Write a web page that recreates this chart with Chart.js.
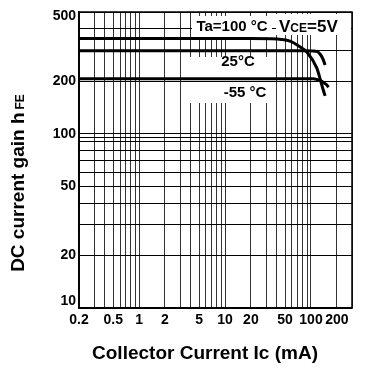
<!DOCTYPE html>
<html>
<head>
<meta charset="utf-8">
<script src="https://cdn.jsdelivr.net/npm/chart.js@4"></script>
<style>
  html, body { margin: 0; padding: 0; background: #fff; }
</style>
</head>
<body>
<canvas id="hfe-chart" width="365" height="371"></canvas>
<script>
// Dados (Ic em mA, hFE)
const ic100 = [0.2, 20, 34, 45, 57, 75, 90, 117, 130, 138, 146]
const hfe100 = [352, 352, 351, 348, 340, 315, 294, 238, 200, 180, 165]
const ic25 = [0.2, 20, 80, 105, 117, 128, 138, 146]
const hfe25 = [300, 300, 300, 299, 297, 286, 268, 248]
const icM55 = [0.2, 20, 90, 106, 117, 130, 140, 152, 160]
const hfeM55 = [207, 207, 207, 207, 205, 201, 197, 191, 185]

// Linhas de grade e rótulos dos eixos
const xGrid = [0.2, 0.3, 0.4, 0.5, 0.6, 0.7, 0.8, 0.9, 1, 2, 3, 4, 5, 6, 7, 8, 9, 10, 20, 30, 40, 50, 60, 70, 80, 90, 100, 200, 300]
const xLabels = [0.2, 0.5, 1, 2, 5, 10, 20, 50, 100, 200]
const yGrid = [10, 20, 30, 40, 50, 60, 70, 80, 90, 95, 100, 200, 300, 400, 500]
const yLabels = [20, 50, 100, 200]
// rótulos das pontas, um pouco para dentro como no original
const yEndLabels = [10, 500]

const FONT = "'Liberation Sans', Arial, sans-serif"

function toPoints(xs, ys) {
  return xs.map((x, i) => ({ x: x, y: ys[i] }))
}

function curve(data) {
  return {
    data: data,
    borderColor: "#000",
    borderWidth: 3,
    pointRadius: 0,
    fill: false,
    cubicInterpolationMode: "monotone",
  }
}

// Plugin para caixas brancas, moldura e textos
const labelsPlugin = {
  id: "labels",
  beforeDatasetsDraw(chart) {
    const ctx = chart.ctx
    const yScale = chart.scales.y
    ctx.save()
    ctx.fillStyle = "#fff"
    ctx.fillRect(192, 16, 80, 21)
    ctx.fillRect(276, 14, 75, 21)
    ctx.fillRect(186, 57, 86, 46)
    // a linha de 200 continua por baixo dos rótulos
    const y200 = Math.round(yScale.getPixelForValue(200)) + 0.5
    ctx.strokeStyle = "#000"
    ctx.lineWidth = 1
    ctx.beginPath()
    ctx.moveTo(186, y200)
    ctx.lineTo(272, y200)
    ctx.stroke()
    ctx.restore()
  },
  afterDraw(chart) {
    const ctx = chart.ctx
    const area = chart.chartArea
    const yScale = chart.scales.y
    ctx.save()

    // moldura
    ctx.strokeStyle = "#000"
    ctx.lineWidth = 1.5
    ctx.strokeRect(area.left, area.top, area.right - area.left, area.bottom - area.top)

    ctx.fillStyle = "#000"

    // 10 e 500 no eixo y
    ctx.font = "bold 14px " + FONT
    ctx.textAlign = "right"
    ctx.textBaseline = "middle"
    ctx.fillText(String(yEndLabels[0]), area.left - 3, yScale.getPixelForValue(yEndLabels[0]) - 7)
    ctx.fillText(String(yEndLabels[1]), area.left - 3, yScale.getPixelForValue(yEndLabels[1]) + 4)

    ctx.textAlign = "center"
    ctx.font = "bold 15px " + FONT
    ctx.fillText("Ta=100 °C", 232, 27)
    ctx.fillText("25°C", 238, 62)
    ctx.fillText("-55 °C", 245, 93)

    // VCE=5V com índice pequeno
    ctx.textAlign = "left"
    ctx.textBaseline = "alphabetic"
    let x = 279
    const base = 32
    ctx.font = "bold 17px " + FONT
    ctx.fillText("V", x, base)
    x += ctx.measureText("V").width
    ctx.font = "bold 12px " + FONT
    ctx.fillText("CE", x, base)
    x += ctx.measureText("CE").width
    ctx.font = "bold 17px " + FONT
    ctx.fillText("=5V", x, base)

    // título do eixo x
    ctx.textAlign = "center"
    ctx.textBaseline = "middle"
    ctx.font = "bold 19px " + FONT
    ctx.fillText("Collector Current Ic (mA)", 205, 354)

    // título do eixo y (rotacionado)
    ctx.translate(17, 183)
    ctx.rotate(-Math.PI / 2)
    const main = "DC current gain h"
    ctx.font = "bold 12px " + FONT
    const subW = ctx.measureText("FE").width
    ctx.font = "bold 19px " + FONT
    const mainW = ctx.measureText(main).width
    const start = -(mainW + 3 + subW) / 2
    ctx.textAlign = "left"
    ctx.textBaseline = "alphabetic"
    ctx.fillText(main, start, 7)
    ctx.font = "bold 12px " + FONT
    ctx.fillText("FE", start + mainW + 3, 7)

    ctx.restore()
  },
}

const chartCtx = document.getElementById("hfe-chart").getContext("2d")

new Chart(chartCtx, {
  type: "line",
  data: {
    datasets: [
      curve(toPoints(ic100, hfe100)),
      curve(toPoints(ic25, hfe25)),
      curve(toPoints(icM55, hfeM55)),
    ],
  },
  options: {
    responsive: false,
    animation: false,
    devicePixelRatio: 1,
    layout: { padding: { top: 12, right: 13, left: 0, bottom: 0 } },
    plugins: {
      legend: { display: false },
      tooltip: { enabled: false },
    },
    scales: {
      x: {
        type: "logarithmic",
        min: 0.2,
        max: 300,
        afterBuildTicks: (scale) => {
          scale.ticks = xGrid.map((v) => ({ value: v }))
        },
        afterFit: (scale) => {
          scale.height = 63
        },
        grid: { color: "#333", lineWidth: 1, drawTicks: false },
        border: { color: "#000", width: 1.5 },
        ticks: {
          autoSkip: false,
          maxRotation: 0,
          padding: 4,
          color: "#000",
          font: { family: FONT, size: 14, weight: "bold" },
          callback: (value) => (xLabels.includes(value) ? String(value) : ""),
        },
      },
      y: {
        type: "logarithmic",
        min: 10,
        max: 500,
        afterBuildTicks: (scale) => {
          scale.ticks = yGrid.map((v) => ({ value: v }))
        },
        afterFit: (scale) => {
          scale.width = 79
        },
        grid: { color: "#000", lineWidth: 1, drawTicks: false },
        border: { color: "#000", width: 1.5 },
        ticks: {
          autoSkip: false,
          padding: 3,
          color: "#000",
          font: { family: FONT, size: 14, weight: "bold" },
          callback: (value) => (yLabels.includes(value) ? String(value) : ""),
        },
      },
    },
  },
  plugins: [labelsPlugin],
})
</script>
</body>
</html>
